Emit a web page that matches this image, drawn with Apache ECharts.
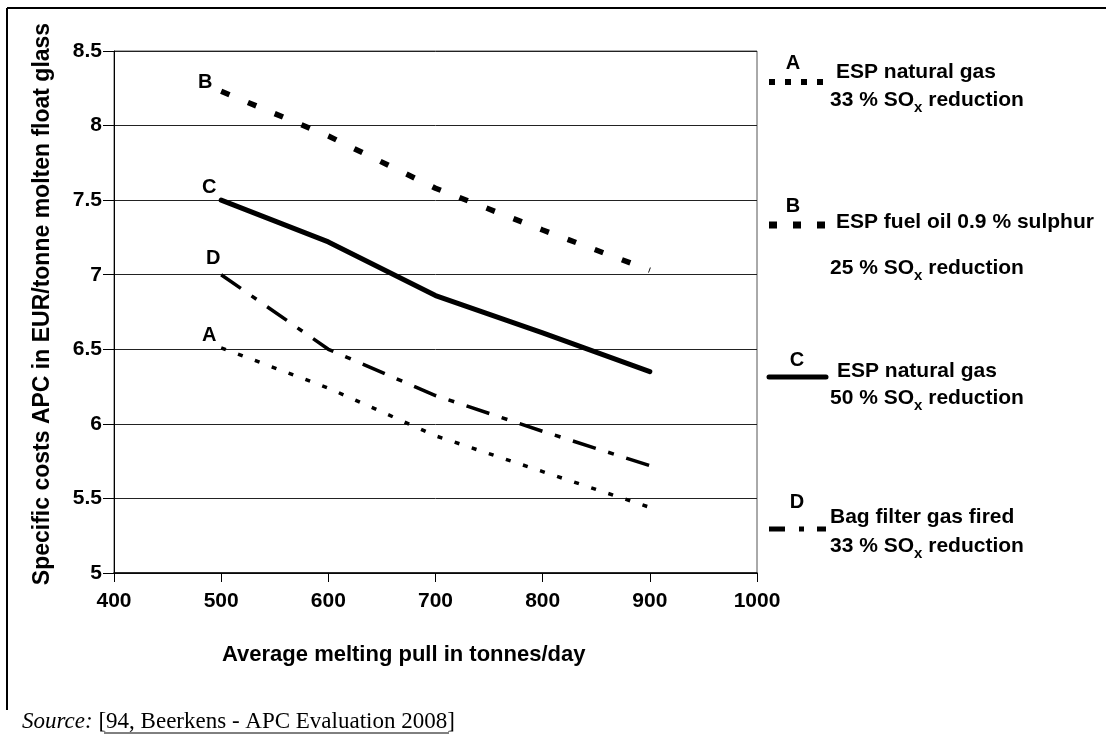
<!DOCTYPE html>
<html>
<head>
<meta charset="utf-8">
<script src="https://cdn.jsdelivr.net/npm/echarts@6/dist/echarts.min.js"></script>
<style>html,body{margin:0;padding:0;background:#fff;}#c{width:1106px;height:735px;}</style>
</head>
<body>
<div id="c"></div>
<script>
// ---- data ----
const xValues = [500, 600, 700, 800, 900];
const seriesA = [6.51, 6.24, 5.92, 5.68, 5.44];
const seriesB = [8.23, 7.93, 7.58, 7.30, 7.03];
const seriesC = [7.50, 7.22, 6.86, 6.61, 6.35];
const seriesD = [7.00, 6.50, 6.19, 5.95, 5.72];
const seriesNames = ['A', 'B', 'C', 'D'];
const legendLine1 = ['ESP natural gas', 'ESP fuel oil 0.9 % sulphur', 'ESP natural gas', 'Bag filter gas fired'];
const legendPct = ['33', '25', '50', '33'];
const xTitle = 'Average melting pull in tonnes/day';
const yTitle = 'Specific costs APC in EUR/tonne molten float glass';

const font = '"Liberation Sans", Arial, sans-serif';
const serif = '"Liberation Serif", "Times New Roman", serif';

function mk(vals, name, labelOffset) {
  return xValues.map((x, i) => {
    const item = { value: [x, vals[i]] };
    if (i === 0) {
      item.label = { show: true, formatter: name, position: 'inside', offset: labelOffset,
        fontFamily: font, fontWeight: 'bold', fontSize: 20, color: '#000' };
    }
    return item;
  });
}

const base = { type: 'line', showSymbol: true, symbol: 'circle', symbolSize: 1, smooth: false,
  itemStyle: { color: 'rgba(0,0,0,0)', borderWidth: 0 }, label: { show: false }, emphasis: { disabled: true }, z: 3 };

const chart = echarts.init(document.getElementById('c'), null, { renderer: 'canvas' });

function supText(pct) {
  return pct + ' % SO{sub|x} reduction';
}
const rich = { sub: { fontSize: 15, fontWeight: 'bold', fontFamily: font, padding: [16, 0, 0, 0], color: '#000' } };
const txtStyle = (x, y, text) => ({ type: 'text', x: x, y: y, style: { text: text, fontFamily: font, fontWeight: 'bold', fontSize: 21, fill: '#000', verticalAlign: 'middle', rich: rich } });
const letter = (x, y, t) => ({ type: 'text', x: x, y: y, style: { text: t, fontFamily: font, fontWeight: 'bold', fontSize: 20, fill: '#000', align: 'center', verticalAlign: 'middle' } });

const graphics = [
  // frame
  { type: 'line', shape: { x1: 7, y1: 8, x2: 1106, y2: 8 }, style: { stroke: '#000', lineWidth: 2 } },
  { type: 'line', shape: { x1: 7, y1: 8, x2: 7, y2: 710 }, style: { stroke: '#000', lineWidth: 2 } },
  // axis titles
  { type: 'text', x: 43, y: 304, rotation: Math.PI / 2, style: { text: yTitle, fontFamily: font, fontWeight: 'bold', fontSize: 23, fill: '#000', align: 'center', verticalAlign: 'middle' } },
  { type: 'text', x: 222, y: 655, style: { text: xTitle, fontFamily: font, fontWeight: 'bold', fontSize: 22, fill: '#000', verticalAlign: 'middle' } },
  // source
  { type: 'text', x: 22, y: 722, style: { text: '{i|Source:} [94, Beerkens - APC Evaluation 2008]', fontFamily: serif, fontSize: 23, fill: '#000', verticalAlign: 'middle', rich: { i: { fontFamily: serif, fontStyle: 'italic', fontSize: 23 } } } },
  { type: 'line', shape: { x1: 104, y1: 733, x2: 449, y2: 733 }, style: { stroke: '#000', lineWidth: 1 } },
  // legend A
  letter(793, 63, seriesNames[0]),
  { type: 'line', shape: { x1: 769, y1: 82, x2: 826, y2: 82 }, style: { stroke: '#000', lineWidth: 6, lineDash: [6, 10] } },
  txtStyle(836, 72, legendLine1[0]),
  txtStyle(830, 100, supText(legendPct[0])),
  // legend B
  letter(793, 206, seriesNames[1]),
  { type: 'line', shape: { x1: 769, y1: 225, x2: 826, y2: 225 }, style: { stroke: '#000', lineWidth: 7, lineDash: [8, 16] } },
  txtStyle(836, 222, legendLine1[1]),
  txtStyle(830, 268, supText(legendPct[1])),
  // legend C
  letter(797, 360, seriesNames[2]),
  { type: 'line', shape: { x1: 769, y1: 377, x2: 826, y2: 377 }, style: { stroke: '#000', lineWidth: 5, lineCap: 'round' } },
  txtStyle(837, 371, legendLine1[2]),
  txtStyle(830, 398, supText(legendPct[2])),
  // legend D
  letter(797, 502, seriesNames[3]),
  { type: 'line', shape: { x1: 769, y1: 529, x2: 826, y2: 529 }, style: { stroke: '#000', lineWidth: 5, lineDash: [16, 14, 5, 13] } },
  txtStyle(830, 517, legendLine1[3]),
  txtStyle(830, 546, supText(legendPct[3]))
];

chart.setOption({
  animation: false,
  backgroundColor: '#fff',
  grid: { left: 114, right: 349, top: 51, bottom: 162, show: true, borderColor: '#555', borderWidth: 1, backgroundColor: 'transparent' },
  xAxis: {
    type: 'value', min: 400, max: 1000, interval: 100,
    axisLine: { show: true, onZero: false, lineStyle: { color: '#000', width: 1.5 } },
    axisTick: { show: true, length: 9, lineStyle: { color: '#000', width: 1 } },
    axisLabel: { fontFamily: font, fontWeight: 'bold', fontSize: 21, color: '#000', margin: 18, formatter: v => String(v) },
    splitLine: { show: false }
  },
  yAxis: {
    type: 'value', min: 5, max: 8.5, interval: 0.5,
    axisLine: { show: true, lineStyle: { color: '#000', width: 1 } },
    axisTick: { show: true, length: 11, lineStyle: { color: '#000', width: 1 } },
    axisLabel: { fontFamily: font, fontWeight: 'bold', fontSize: 21, color: '#000', margin: 12, formatter: v => String(v) },
    splitLine: { show: true, lineStyle: { color: '#222', width: 1 } }
  },
  series: [
    Object.assign({}, base, { name: 'A', data: mk(seriesA, 'A', [-12, -12]), lineStyle: { color: '#000', width: 3.5, type: [5, 13], cap: 'butt' } }),
    Object.assign({}, base, { name: 'B', data: mk(seriesB, 'B', [-16, -9]), lineStyle: { color: '#000', width: 5.5, type: [9, 20], cap: 'butt' } }),
    Object.assign({}, base, { name: 'C', data: mk(seriesC, 'C', [-12, -13]), lineStyle: { color: '#000', width: 5, type: 'solid', cap: 'round' } }),
    Object.assign({}, base, { name: 'D', data: mk(seriesD, 'D', [-8, -16]), lineStyle: { color: '#000', width: 3.5, type: [24, 13, 6, 13], cap: 'butt' } })
  ],
  graphic: graphics
});
</script>
</body>
</html>
